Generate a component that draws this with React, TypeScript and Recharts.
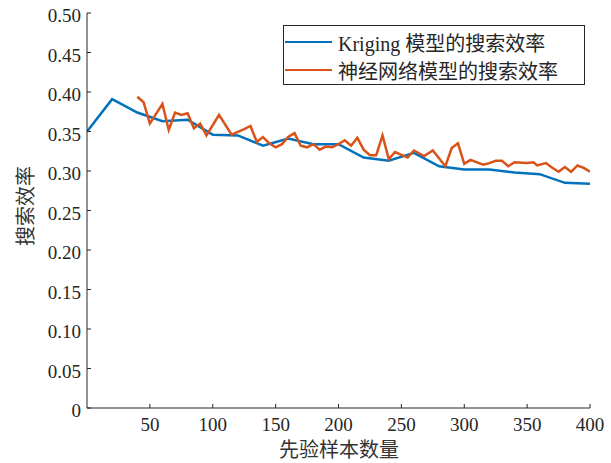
import { LineChart, Line, XAxis, YAxis, Legend, Label } from 'recharts'

// Kriging 模型：每 20 个样本一个点
const krigingX = [0, 20, 40, 60, 80, 100, 120, 140, 160, 180, 200, 220, 240, 260, 280, 300, 320, 340, 360, 380, 400]
const krigingY = [0.350, 0.391, 0.374, 0.363, 0.365, 0.346, 0.345, 0.332, 0.341, 0.334, 0.334, 0.317, 0.313, 0.323, 0.306, 0.302, 0.302, 0.298, 0.296, 0.285, 0.284]

// 神经网络模型：从 40 开始，噪声较大
const nnX = [40, 45, 50, 60, 65, 70, 75, 80, 85, 90, 95, 105, 115, 125, 130, 135, 140, 145, 150, 155, 160, 165, 170, 175, 180, 185, 190, 195, 200, 205, 210, 215, 220, 225, 230, 235, 240, 245, 255, 260, 268, 275, 285, 290, 295, 300, 305, 315, 320, 325, 330, 335, 340, 350, 355, 358, 365, 370, 375, 380, 385, 390, 395, 400]
const nnY = [0.394, 0.387, 0.360, 0.385, 0.352, 0.374, 0.371, 0.373, 0.354, 0.360, 0.345, 0.371, 0.346, 0.353, 0.357, 0.337, 0.343, 0.335, 0.330, 0.334, 0.343, 0.348, 0.332, 0.330, 0.334, 0.327, 0.331, 0.330, 0.334, 0.339, 0.332, 0.342, 0.327, 0.320, 0.320, 0.345, 0.315, 0.324, 0.317, 0.326, 0.319, 0.326, 0.306, 0.329, 0.335, 0.309, 0.314, 0.308, 0.310, 0.313, 0.313, 0.306, 0.311, 0.310, 0.311, 0.307, 0.310, 0.304, 0.299, 0.305, 0.299, 0.307, 0.304, 0.299]

const xTicks = [50, 100, 150, 200, 250, 300, 350, 400]
const yTicks = [0, 0.05, 0.1, 0.15, 0.2, 0.25, 0.3, 0.35, 0.4, 0.45, 0.5]

const SERIES = [
  { name: 'Kriging 模型的搜索效率', color: '#0072BD', xs: krigingX, ys: krigingY },
  { name: '神经网络模型的搜索效率', color: '#D95319', xs: nnX, ys: nnY },
]

const AXIS = '#262626'
const SERIF = '"Liberation Serif", "Noto Sans CJK SC", serif'
const CJK = '"Noto Sans CJK SC", sans-serif'

const YTick = ({ x, y, payload }: any) => (
  <g>
    <line x1={x + 6} x2={x + 10} y1={y} y2={y} stroke={AXIS} />
    <text x={x} y={y} dy={9} textAnchor="end" fontSize={19} fontFamily={SERIF} fill={AXIS}>
      {payload.value === 0 ? '0' : payload.value.toFixed(2)}
    </text>
  </g>
)

const XTick = ({ x, y, payload }: any) => (
  <g>
    <line x1={x} x2={x} y1={y - 8} y2={y - 12} stroke={AXIS} />
    <text x={x} y={y} dy={15} textAnchor="middle" fontSize={19} fontFamily={SERIF} fill={AXIS}>
      {payload.value}
    </text>
  </g>
)

function LegendBox({ payload }: any) {
  return (
    <div style={{
      width: 302, height: 60, boxSizing: 'border-box', border: `1px solid ${AXIS}`,
      background: '#fff', paddingTop: 2,
    }}>
      {(payload || []).map((p: any) => (
        <div key={p.value} style={{ display: 'flex', alignItems: 'center', height: 28 }}>
          <div style={{ width: 47, height: 2.5, background: p.color, marginLeft: 1 }} />
          <span style={{ marginLeft: 6, fontSize: 20, fontFamily: SERIF, color: AXIS, whiteSpace: 'nowrap' }}>
            {p.value}
          </span>
        </div>
      ))}
    </div>
  )
}

export default function App() {
  return (
    <div style={{ position: 'absolute', left: 0, top: 0, background: '#fff' }}>
      <LineChart width={611} height={463} margin={{ top: 13, right: 21, bottom: 0, left: 0 }}>
        <XAxis
          type="number"
          dataKey="x"
          domain={[0, 400]}
          ticks={xTicks}
          height={55}
          stroke={AXIS}
          tickLine={false}
          tickSize={0}
          tickMargin={8}
          tick={<XTick />}
          allowDataOverflow
        >
          <Label content={() => (
            <text x={339} y={448} textAnchor="middle" dominantBaseline="central" fontSize={20} fontFamily={CJK} fill="#333">
              先验样本数量
            </text>
          )} />
        </XAxis>
        <YAxis
          type="number"
          domain={[0, 0.5]}
          ticks={yTicks}
          width={87}
          stroke={AXIS}
          tickLine={false}
          tickSize={0}
          tickMargin={6}
          tick={<YTick />}
        >
          <Label content={() => (
            <text x={24} y={206} transform="rotate(-90 24 206)" textAnchor="middle" dominantBaseline="central" fontSize={20} fontFamily={CJK} fill="#333">
              搜索效率
            </text>
          )} />
        </YAxis>
        <Legend
          layout="horizontal"
          verticalAlign="middle"
          align="center"
          content={<LegendBox />}
          wrapperStyle={{ left: 283, top: 25, width: 302, height: 60 }}
        />
        {SERIES.map(s => (
          <Line
            key={s.name}
            name={s.name}
            data={s.xs.map((x, i) => ({ x, y: s.ys[i] }))}
            dataKey="y"
            stroke={s.color}
            strokeWidth={2.5}
            dot={false}
            activeDot={false}
            isAnimationActive={false}
          />
        ))}
      </LineChart>
    </div>
  )
}
